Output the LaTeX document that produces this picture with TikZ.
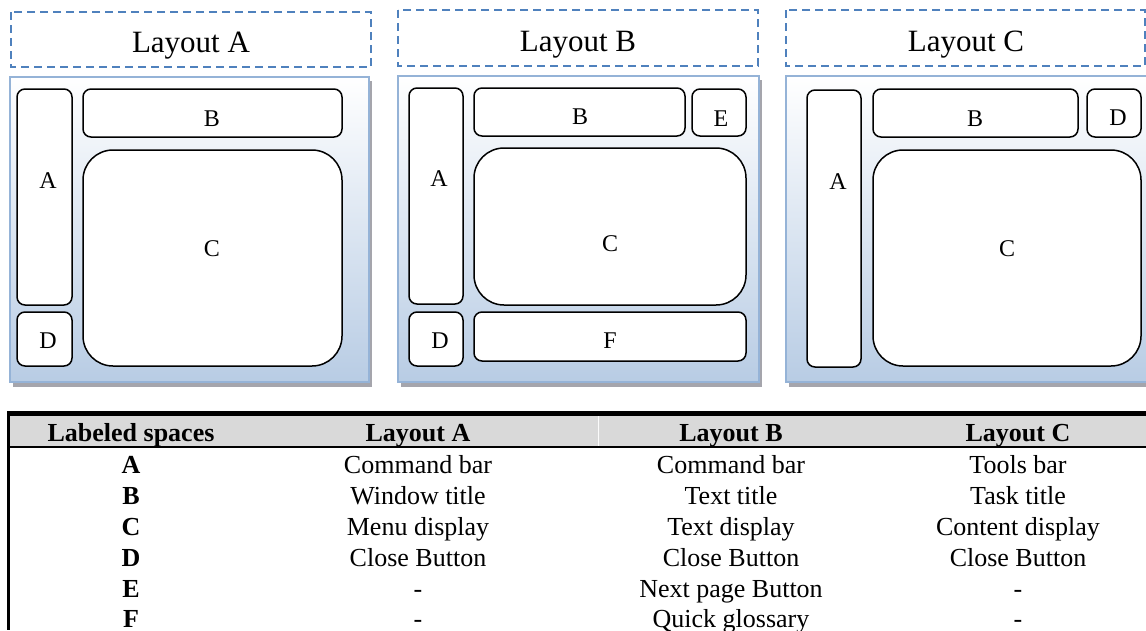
\documentclass[tikz,border=0pt]{standalone}
\usepackage{fontspec}
\setmainfont{Liberation Serif}
\definecolor{dashblue}{RGB}{79,129,189}
\definecolor{panelborder}{RGB}{149,179,215}
\definecolor{panelblue}{RGB}{184,204,228}
\definecolor{shadowgray}{RGB}{165,165,172}
\definecolor{headgray}{RGB}{217,217,217}
\tikzset{
  titlebox/.style={draw=dashblue, line width=2.5pt, dash pattern=on 8pt off 5pt},
  titletext/.style={font=\fontsize{31}{34}\selectfont, inner sep=0pt, anchor=base},
  panel/.style={draw=panelborder, line width=2pt, top color=white, bottom color=panelblue},
  shadowbox/.style={fill=shadowgray, draw=none},
  region/.style={draw=black, fill=white, line width=1.5pt, rounded corners=8pt},
  bigregion/.style={draw=black, fill=white, line width=1.5pt, rounded corners=30pt},
  rlabel/.style={font=\fontsize{24}{26}\selectfont, inner sep=0pt, anchor=base},
  thead/.style={font=\bfseries\fontsize{26}{28}\selectfont, inner sep=0pt, anchor=base},
  tbold/.style={font=\bfseries\fontsize{26}{28}\selectfont, inner sep=0pt, anchor=base},
  tcell/.style={font=\fontsize{26}{28}\selectfont, inner sep=0pt, anchor=base},
}
\begin{document}
\begin{tikzpicture}[x=1pt,y=-1pt]
\useasboundingbox (0,0) rectangle (1146,630);

% ---------- Layout A ----------
\draw[titlebox] (11,12) rectangle (371,67);
\node[titletext] (tA) at (191,52) {Layout A};
\fill[shadowbox] (13,81) rectangle (372,387);
\draw[panel] (10,77) rectangle (369,382);
\draw[region] (17,89) rectangle (72,305);
\node[rlabel] (aA) at (48,188) {A};
\draw[region] (83,89) rectangle (342,137);
\node[rlabel] (aB) at (212,126) {B};
\draw[bigregion] (83,150) rectangle (342,366);
\node[rlabel] (aC) at (212,256) {C};
\draw[region] (17,312) rectangle (72,366);
\node[rlabel] (aD) at (48,348) {D};

% ---------- Layout B ----------
\draw[titlebox] (398,10) rectangle (758,66);
\node[titletext] (tB) at (578,51) {Layout B};
\fill[shadowbox] (401,80) rectangle (762,387);
\draw[panel] (398,76) rectangle (759,382);
\draw[region] (409,88) rectangle (463,304);
\node[rlabel] (bA) at (439,186) {A};
\draw[region] (474,88) rectangle (685,136);
\node[rlabel] (bB) at (580,124) {B};
\draw[region] (692,89) rectangle (746,136);
\node[rlabel] (bE) at (721,126) {E};
\draw[bigregion] (474,148) rectangle (746,305);
\node[rlabel] (bC) at (610,251) {C};
\draw[region] (409,312) rectangle (463,366);
\node[rlabel] (bD) at (440,348) {D};
\draw[region] (474,312) rectangle (746,361);
\node[rlabel] (bF) at (610,348) {F};

% ---------- Layout C ----------
\draw[titlebox] (786,10) rectangle (1145,66);
\node[titletext] (tC) at (966,51) {Layout C};
\fill[shadowbox] (789,80) rectangle (1150,387);
\draw[panel] (786,76) rectangle (1148,382);
\draw[region] (807,90) rectangle (861,367);
\node[rlabel] (cA) at (838,189) {A};
\draw[region] (873,89) rectangle (1078,137);
\node[rlabel] (cB) at (975,126) {B};
\draw[region] (1087,89) rectangle (1141,137);
\node[rlabel] (cD) at (1118,125) {D};
\draw[bigregion] (873,150) rectangle (1141,366);
\node[rlabel] (cC) at (1007,256) {C};

% ---------- Table ----------
\fill[headgray] (9,415) rectangle (1146,446);
\draw[white!90!headgray, line width=1pt] (598,415) -- (598,446);
\draw[black, line width=4.5pt] (7,413.5) -- (1146,413.5);
\draw[black, line width=2pt] (8.5,446.5) -- (1146,446.5);
\draw[black, line width=2.5pt] (8.5,411) -- (8.5,630);

\node[thead] (h1) at (131,441) {Labeled spaces};
\node[thead] (h2) at (418,441) {Layout A};
\node[thead] (h3) at (731,441) {Layout B};
\node[thead] (h4) at (1018,441) {Layout C};

\node[tbold] (r1) at (131,473) {A};
\node[tcell] (r1a) at (418,473) {Command bar};
\node[tcell] (r1b) at (731,473) {Command bar};
\node[tcell] (r1c) at (1018,473) {Tools bar};

\node[tbold] (r2) at (131,504) {B};
\node[tcell] (r2a) at (418,504) {Window title};
\node[tcell] (r2b) at (731,504) {Text title};
\node[tcell] (r2c) at (1018,504) {Task title};

\node[tbold] (r3) at (131,535) {C};
\node[tcell] (r3a) at (418,535) {Menu display};
\node[tcell] (r3b) at (731,535) {Text display};
\node[tcell] (r3c) at (1018,535) {Content display};

\node[tbold] (r4) at (131,566) {D};
\node[tcell] (r4a) at (418,566) {Close Button};
\node[tcell] (r4b) at (731,566) {Close Button};
\node[tcell] (r4c) at (1018,566) {Close Button};

\node[tbold] (r5) at (131,597) {E};
\node[tcell] (r5a) at (418,597) {-};
\node[tcell] (r5b) at (731,597) {Next page Button};
\node[tcell] (r5c) at (1018,597) {-};

\node[tbold] (r6) at (131,627) {F};
\node[tcell] (r6a) at (418,627) {-};
\node[tcell] (r6b) at (731,627) {Quick glossary};
\node[tcell] (r6c) at (1018,627) {-};
\end{tikzpicture}
\end{document}
